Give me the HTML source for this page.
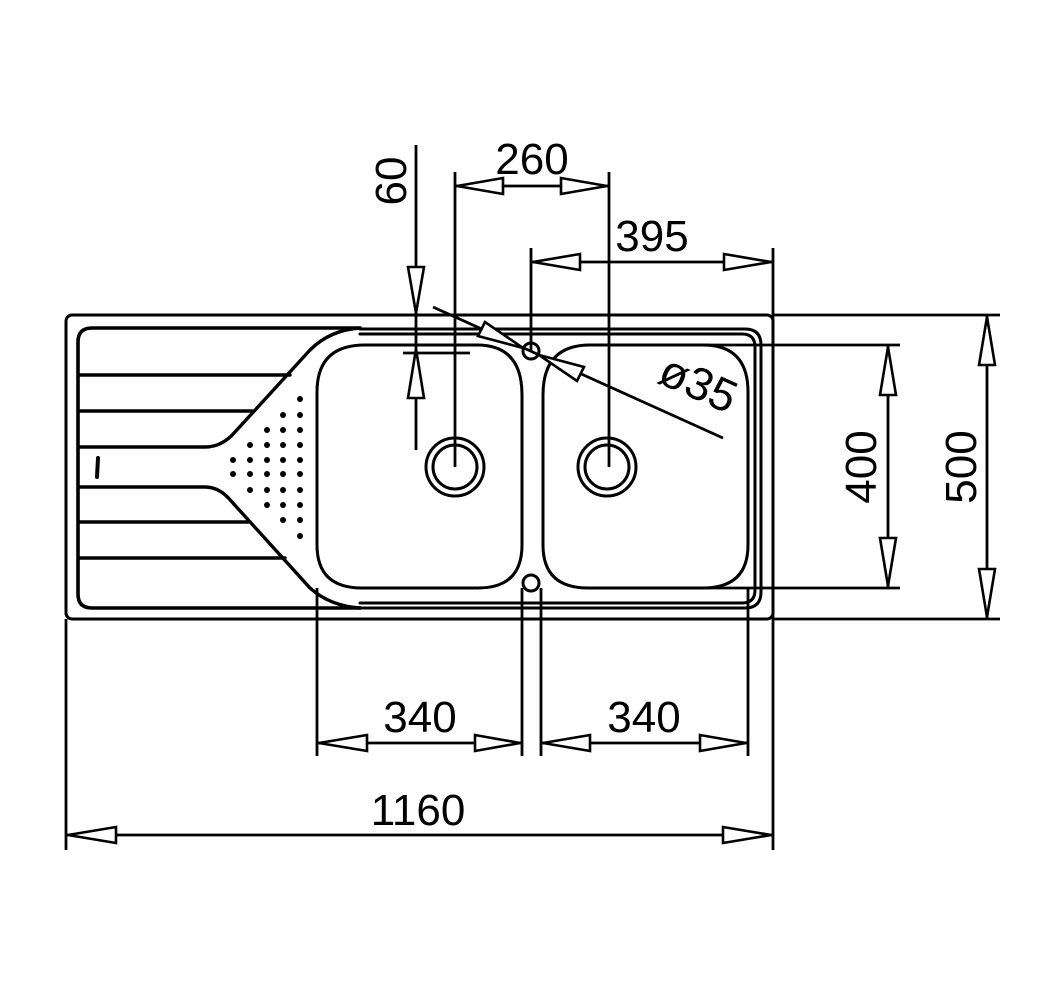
<!DOCTYPE html>
<html><head><meta charset="utf-8"><style>
html,body{margin:0;padding:0;background:#fff;}
svg{display:block;}
text{font-family:"Liberation Sans","DejaVu Sans",sans-serif;font-size:44px;fill:#000;}
</style></head><body>
<svg width="1064" height="1000" viewBox="0 0 1064 1000" xmlns="http://www.w3.org/2000/svg">
<g fill="none" stroke="#000" stroke-width="3" stroke-linecap="round">
<rect x="66" y="315" width="707" height="304" rx="6"/>
<path d="M360,329 L745,329 Q761,329 761,345 L761,592 Q761,608 745,608 L360,608"/>
<path d="M360,334 L742,334 Q755,334 755,347 L755,590 Q755,603 742,603 L360,603"/>
<path d="M360,328 L92,328 Q78,328 78,342 L78,594 Q78,608 92,608 L360,608" stroke-width="3.6"/>
<path d="M360,328 Q330,330 310,350 L235,432 Q222,447 205,447 L80,447" stroke-width="3.4"/>
<path d="M360,608 Q330,606 310,588 L232,502 Q220,487 205,487 L80,487" stroke-width="3.4"/>
<line x1="80" y1="375" x2="290" y2="375" stroke-width="3.4"/>
<line x1="80" y1="411" x2="252" y2="411" stroke-width="3.4"/>
<line x1="80" y1="522" x2="248" y2="522" stroke-width="3.4"/>
<line x1="80" y1="558" x2="285" y2="558" stroke-width="3.4"/>
<line x1="98" y1="458" x2="97" y2="477" stroke-width="4"/>
<path d="M365,345 L477,345 Q522,345 522,395 L522,545 Q522,588 478,588 L362,588 Q317,588 317,545 L317,392 Q317,345 365,345 Z"/>
<path d="M590,345 L703,345 Q748,345 748,392 L748,545 Q748,588 703,588 L588,588 Q543,588 543,545 L543,395 Q543,345 590,345 Z"/>
<circle cx="455" cy="467" r="29"/><circle cx="455" cy="467" r="22"/>
<circle cx="607" cy="467" r="29"/><circle cx="607" cy="467" r="22"/>
<circle cx="531" cy="351" r="8"/><circle cx="531" cy="583" r="8"/>
</g>
<g fill="#000">
<circle cx="300" cy="399" r="3"/>
<circle cx="283" cy="415" r="3"/><circle cx="300" cy="415" r="3"/>
<circle cx="267" cy="430" r="3"/><circle cx="283" cy="430" r="3"/><circle cx="300" cy="430" r="3"/>
<circle cx="250" cy="445" r="3"/><circle cx="267" cy="445" r="3"/><circle cx="283" cy="445" r="3"/><circle cx="300" cy="445" r="3"/>
<circle cx="233" cy="460" r="3"/><circle cx="250" cy="460" r="3"/><circle cx="267" cy="460" r="3"/><circle cx="283" cy="460" r="3"/><circle cx="300" cy="460" r="3"/>
<circle cx="233" cy="474" r="3"/><circle cx="250" cy="474" r="3"/><circle cx="267" cy="474" r="3"/><circle cx="283" cy="474" r="3"/><circle cx="300" cy="474" r="3"/>
<circle cx="250" cy="490" r="3"/><circle cx="267" cy="490" r="3"/><circle cx="283" cy="490" r="3"/><circle cx="300" cy="490" r="3"/>
<circle cx="267" cy="505" r="3"/><circle cx="283" cy="505" r="3"/><circle cx="300" cy="505" r="3"/>
<circle cx="283" cy="520" r="3"/><circle cx="300" cy="520" r="3"/>
<circle cx="300" cy="536" r="3"/>
</g>
<g fill="none" stroke="#000" stroke-width="2.8">
<line x1="773" y1="315" x2="1000" y2="315"/>
<line x1="773" y1="619" x2="1000" y2="619"/>
<line x1="600" y1="345" x2="900" y2="345"/>
<line x1="700" y1="588" x2="900" y2="588"/>
<line x1="888" y1="345" x2="888" y2="588"/>
<line x1="987" y1="315" x2="987" y2="619"/>
<line x1="317" y1="588" x2="317" y2="756"/>
<line x1="522" y1="588" x2="522" y2="756"/>
<line x1="541" y1="588" x2="541" y2="756"/>
<line x1="748" y1="588" x2="748" y2="756"/>
<line x1="317" y1="743" x2="522" y2="743"/>
<line x1="541" y1="743" x2="748" y2="743"/>
<line x1="66" y1="619" x2="66" y2="850"/>
<line x1="773" y1="248" x2="773" y2="850"/>
<line x1="66" y1="835" x2="773" y2="835"/>
<line x1="455" y1="172" x2="455" y2="467"/>
<line x1="609" y1="172" x2="609" y2="467"/>
<line x1="455" y1="186" x2="609" y2="186"/>
<line x1="531" y1="248" x2="531" y2="351"/>
<line x1="531" y1="262" x2="773" y2="262"/>
<line x1="416" y1="145" x2="416" y2="450"/>
<line x1="403" y1="353" x2="470" y2="353"/>
<line x1="433" y1="307" x2="723" y2="438"/>
</g>
<g fill="#fff" stroke="#000" stroke-width="2.6" stroke-linejoin="miter">
<polygon points="888,347 880,395 896,395"/>
<polygon points="888,586 880,538 896,538"/>
<polygon points="987,317 979,365 995,365"/>
<polygon points="987,617 979,569 995,569"/>
<polygon points="319,743 367,735 367,751"/>
<polygon points="520,743 475,735 475,751"/>
<polygon points="543,743 590,735 590,751"/>
<polygon points="746,743 700,735 700,751"/>
<polygon points="68,835 116,827 116,843"/>
<polygon points="771,835 723,827 723,843"/>
<polygon points="457,186 503,178 503,194"/>
<polygon points="607,186 561,178 561,194"/>
<polygon points="533,262 580,254 580,270"/>
<polygon points="771,262 724,254 724,270"/>
<polygon points="416,313 408,267 424,267"/>
<polygon points="416,349 408,398 424,398"/>
<polygon points="523,348 478,336 485,322"/>
<polygon points="539,355 584,367 577,381"/>
</g>
<text x="532" y="174" text-anchor="middle">260</text>
<text x="652" y="251" text-anchor="middle">395</text>
<text x="420" y="732" text-anchor="middle">340</text>
<text x="644" y="732" text-anchor="middle">340</text>
<text x="418" y="825" text-anchor="middle">1160</text>
<text transform="translate(406,181) rotate(-90)" text-anchor="middle">60</text>
<text transform="translate(876,467) rotate(-90)" text-anchor="middle">400</text>
<text transform="translate(976,467) rotate(-90)" text-anchor="middle">500</text>
<text transform="translate(692,398) rotate(24)" text-anchor="middle" style="font-size:46px">ø35</text>
</svg>
</body></html>
